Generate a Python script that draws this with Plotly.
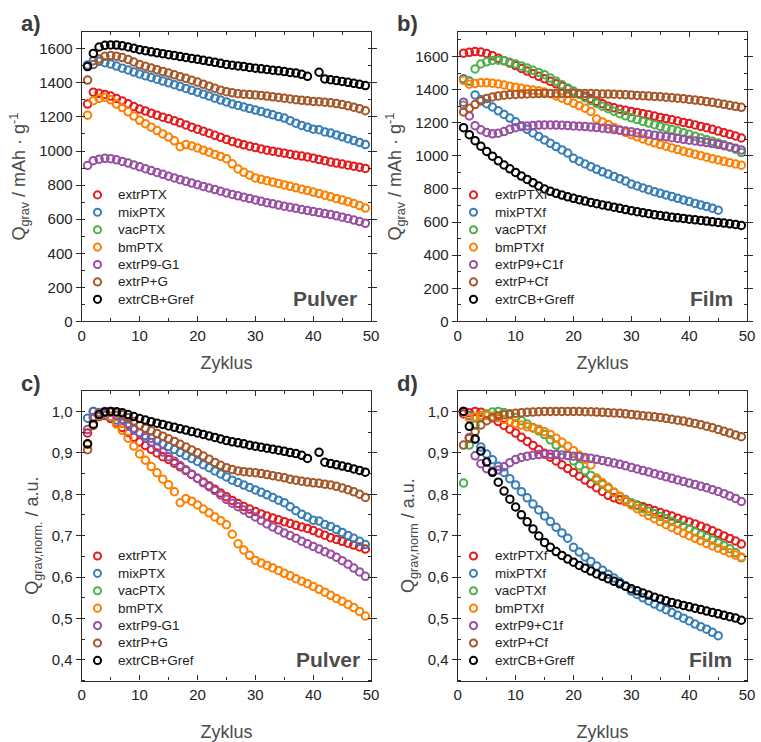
import plotly.graph_objects as go

# Cycle numbers
cycles = list(range(1, 50))

# Powder electrodes ("Pulver"): gravimetric capacity in mAh/g
extrPTX = [1275, 1345, 1338, 1332, 1322, 1308, 1293, 1277, 1261, 1246, 1234, 1222, 1210, 1198, 1189,
           1177, 1165, 1153, 1140, 1128, 1116, 1104, 1092, 1080, 1068, 1056, 1046, 1036, 1028, 1020,
           1012, 1005, 999, 993, 987, 981, 975, 970, 965, 958, 950, 943, 935, 929, 923, 917, 911, 905, 898]
mixPTX = [1505, 1530, 1526, 1518, 1510, 1498, 1486, 1475, 1463, 1452, 1441, 1431, 1421, 1410, 1400,
          1389, 1378, 1367, 1356, 1345, 1333, 1322, 1310, 1299, 1288, 1276, 1267, 1258, 1249, 1240,
          1231, 1222, 1212, 1202, 1193, 1178, 1163, 1150, 1140, 1128, 1125, 1112, 1105, 1094, 1083,
          1072, 1061, 1050, 1038]
vacPTX = []
bmPTX = [1210, 1295, 1308, 1315, 1300, 1275, 1255, 1230, 1205, 1180, 1160, 1140, 1120, 1100, 1082,
         1060, 1025, 1038, 1030, 1018, 1005, 993, 980, 968, 955, 925, 895, 875, 858, 842,
         834, 826, 818, 810, 801, 793, 784, 776, 768, 759, 750, 741, 731, 721, 712, 702, 692, 680, 665]
extrP9_G1 = [915, 943, 952, 957, 955, 948, 939, 929, 918, 907, 896, 885, 874, 863, 852,
             842, 832, 822, 812, 802, 792, 783, 774, 764, 754, 745, 737, 729, 721, 713,
             705, 697, 690, 683, 676, 670, 664, 657, 651, 645, 639, 633, 627, 620, 612, 604, 595, 586, 576]
extrP_G = [1416, 1507, 1540, 1555, 1560, 1556, 1548, 1537, 1522, 1507, 1497, 1487, 1477, 1467, 1457,
           1447, 1436, 1426, 1415, 1404, 1392, 1380, 1368, 1357, 1348, 1341, 1336, 1333, 1331, 1329,
           1326, 1322, 1318, 1314, 1310, 1305, 1301, 1297, 1294, 1291, 1289, 1286, 1283, 1278, 1272,
           1265, 1257, 1248, 1236]
extrCB_Gref = [1495, 1572, 1610, 1620, 1622, 1621, 1617, 1610, 1602, 1594, 1588, 1582, 1576, 1571, 1565,
               1560, 1554, 1549, 1543, 1538, 1532, 1526, 1520, 1514, 1508, 1503, 1499, 1495, 1490, 1486,
               1482, 1478, 1474, 1470, 1466, 1461, 1457, 1450, 1438, None, 1462, 1423, 1418, 1413, 1408,
               1403, 1397, 1391, 1384]

# Film electrodes ("Film"): gravimetric capacity in mAh/g
extrPTXf = [1620, 1625, 1630, 1627, 1618, 1605, 1590, 1575, 1560, 1545, 1528, 1512, 1496, 1480, 1465,
            1450, 1435, 1420, 1405, 1390, 1375, 1360, 1345, 1330, 1315, 1300, 1290, 1282, 1275, 1268,
            1262, 1255, 1248, 1240, 1232, 1225, 1218, 1210, 1202, 1195, 1187, 1178, 1170, 1160, 1150,
            1140, 1130, 1120, 1108]
mixPTXf = [1466, 1452, 1368, 1340, 1315, 1295, 1272, 1250, 1228, 1206, 1182, 1160, 1138, 1117, 1096,
           1076, 1056, 1036, 1017, 985, 968, 951, 935, 919, 904, 890, 876, 862, 848, 830,
           818, 806, 795, 784, 774, 764, 754, 744, 734, 724, 713, 704, 695, 684, 672]
vacPTXf = [1305, 1450, 1525, 1555, 1568, 1576, 1578, 1574, 1565, 1555, 1543, 1530, 1517, 1504, 1490,
           1470, 1450, 1430, 1410, 1390, 1371, 1352, 1334, 1317, 1300, 1285, 1270, 1255, 1242, 1230,
           1219, 1208, 1198, 1188, 1178, 1169, 1159, 1150, 1140, 1130, 1119, 1108, 1098, 1088, 1078,
           1067, 1055, 1040, 1020]
bmPTXf = [1456, 1433, 1437, 1442, 1442, 1439, 1434, 1428, 1421, 1414, 1408, 1402, 1397, 1393, 1385,
          1375, 1362, 1348, 1334, 1318, 1302, 1288, 1268, 1222, 1205, 1190, 1172, 1156, 1141, 1127,
          1114, 1102, 1090, 1079, 1068, 1058, 1048, 1038, 1028, 1019, 1010, 1001, 992, 983, 975,
          967, 959, 951, 944]
extrP9_C1f = [1324, 1241, 1182, 1157, 1141, 1133, 1137, 1147, 1160, 1170, 1177, 1181, 1184, 1186, 1187,
              1187, 1186, 1185, 1183, 1181, 1179, 1177, 1174, 1171, 1167, 1163, 1159, 1155, 1150, 1145,
              1140, 1135, 1130, 1125, 1120, 1115, 1110, 1105, 1100, 1095, 1090, 1085, 1080, 1074, 1068,
              1061, 1054, 1046, 1036]
extrP_Cf = [1265, 1287, 1310, 1332, 1346, 1356, 1362, 1366, 1369, 1371, 1373, 1374, 1375, 1376, 1377,
            1377, 1377, 1377, 1377, 1377, 1377, 1376, 1376, 1375, 1374, 1373, 1372, 1371, 1369, 1367,
            1365, 1363, 1361, 1359, 1357, 1354, 1351, 1348, 1345, 1341, 1337, 1333, 1328, 1323, 1317,
            1311, 1305, 1299, 1293]
extrCB_Greff = [1170, 1128, 1092, 1058, 1027, 998, 970, 945, 922, 900, 878, 858, 838, 818, 800,
                786, 774, 763, 753, 744, 735, 727, 719, 711, 704, 697, 690, 683, 676, 669,
                663, 657, 651, 645, 640, 635, 630, 626, 622, 618, 614, 610, 606, 602, 598,
                594, 590, 586, 580]

names_pulver = ["extrPTX", "mixPTX", "vacPTX", "bmPTX", "extrP9-G1", "extrP+G", "extrCB+Gref"]
names_film = ["extrPTXf", "mixPTXf", "vacPTXf", "bmPTXf", "extrP9+C1f", "extrP+Cf", "extrCB+Greff"]
series_pulver = [extrPTX, mixPTX, vacPTX, bmPTX, extrP9_G1, extrP_G, extrCB_Gref]
series_film = [extrPTXf, mixPTXf, vacPTXf, bmPTXf, extrP9_C1f, extrP_Cf, extrCB_Greff]
colors = ["#e41a1c", "#377eb8", "#4daf4a", "#ff7f00", "#984ea3", "#a65628", "#000000"]

FONT = "Liberation Sans, Arial"
W, H = 761, 742


def normalize(values):
    """Capacity relative to the maximum capacity of the series."""
    valid = [v for v in values if v is not None]
    if not valid:
        return []
    top = max(valid)
    return [None if v is None else v / top for v in values]


fig = go.Figure()

# (xaxis, yaxis, series, names, normalised?, legend marker x, legend text x) in pixels
panels = [
    ("x", "y", series_pulver, names_pulver, False, 95, 114, 197),
    ("x2", "y2", series_film, names_film, False, 477, 497, 197),
    ("x3", "y3", series_pulver, names_pulver, True, 95, 114, 562),
    ("x4", "y4", series_film, names_film, True, 477, 497, 562),
]

shapes = []
annos = []
ROW = 17.6
for xa, ya, series, names, norm, mx, tx, ty in panels:
    for i, (vals, name, col) in enumerate(zip(series, names, colors)):
        yv = normalize(vals) if norm else vals
        if yv:
            fig.add_trace(go.Scatter(
                x=cycles[:len(yv)], y=yv, name=name, mode="markers", xaxis=xa, yaxis=ya,
                showlegend=False,
                marker=dict(symbol="circle-open", size=7.5, color=col,
                            line=dict(width=2, color=col)),
            ))
        # legend entry: open circle + label
        cy = ty + ROW * i
        r = 3.6
        shapes.append(dict(type="circle", xref="paper", yref="paper",
                           x0=(mx - r) / W, x1=(mx + r) / W,
                           y0=1 - (cy + r) / H, y1=1 - (cy - r) / H,
                           line=dict(color=col, width=2), fillcolor="rgba(0,0,0,0)"))
        annos.append(dict(text=name, x=tx / W, y=1 - cy / H, xref="paper", yref="paper",
                          xanchor="left", yanchor="middle", showarrow=False,
                          font=dict(family=FONT, size=13.5, color="#222222")))

xl = [(79 / W, 373 / W), (461 / W, 755 / W)]
yd_top = (1 - 325 / H, 1 - 32 / H)
yd_bot = (1 - 688 / H, 1 - 395 / H)

axis_line = dict(showline=True, linecolor="#2a2a2a", linewidth=1.3, mirror="ticks",
                 showgrid=False, zeroline=False, ticklen=5, tickwidth=1.2, tickcolor="#2a2a2a",
                 tickfont=dict(family=FONT, size=15, color="#222222"))
title_font = dict(family=FONT, size=18, color="#4a4a4a")


def xaxis_cfg(domain, anchor, standoff):
    return dict(axis_line, domain=domain, anchor=anchor, range=[0, 50], dtick=10, tick0=0,
                ticks="inside", minor=dict(dtick=5, ticks="inside", ticklen=3, tickcolor="#2a2a2a"),
                title=dict(text="Zyklus", font=title_font, standoff=standoff))


def yaxis_cfg(domain, anchor, rng, dtick, mdtick, title, fmt):
    return dict(axis_line, domain=domain, anchor=anchor, range=rng, dtick=dtick, tick0=0,
                ticks="outside", tickformat=fmt,
                minor=dict(dtick=mdtick, tick0=0, ticks="inside", ticklen=3, tickcolor="#2a2a2a"),
                title=dict(text=title, font=title_font, standoff=8))


q_title = "Q<sub>grav</sub> / mAh · g<sup>-1</sup>"
fig.update_layout(
    xaxis=xaxis_cfg(xl[0], "y", 13),
    yaxis=yaxis_cfg(yd_top, "x", [0, 1700], 200, 100, q_title, "d"),
    xaxis2=xaxis_cfg(xl[1], "y2", 13),
    yaxis2=yaxis_cfg(yd_top, "x2", [0, 1750], 200, 100, q_title, "d"),
    xaxis3=xaxis_cfg(xl[0], "y3", 23),
    yaxis3=yaxis_cfg(yd_bot, "x3", [0.35, 1.05], 0.1, 0.05,
                     "Q<sub>grav,norm.</sub> / a.u.", ".1f"),
    xaxis4=xaxis_cfg(xl[1], "y4", 23),
    yaxis4=yaxis_cfg(yd_bot, "x4", [0.35, 1.05], 0.1, 0.05,
                     "Q<sub>grav,norm</sub> / a.u.", ".1f"),
    separators=",.",
)

for txt, px, py in [("a)", 27, 24), ("b)", 410, 24), ("c)", 27, 388), ("d)", 410, 388)]:
    annos.append(dict(text=txt, x=px / W, y=1 - py / H, xref="paper", yref="paper",
                      xanchor="center", yanchor="middle", showarrow=False,
                      font=dict(family=FONT, size=22, color="#3a3a3a", weight="bold")))
for txt, px, py in [("Pulver", 326, 302), ("Film", 719, 302), ("Pulver", 329, 667), ("Film", 718, 667)]:
    annos.append(dict(text=txt, x=px / W, y=1 - py / H, xref="paper", yref="paper",
                      xanchor="center", yanchor="middle", showarrow=False,
                      font=dict(family=FONT, size=21, color="#4d4d4d", weight="bold")))

fig.update_layout(
    annotations=annos,
    shapes=shapes,
    showlegend=False,
    width=W, height=H,
    margin=dict(l=0, r=0, t=0, b=0),
    paper_bgcolor="white", plot_bgcolor="white",
)

fig.write_html("out.html", config={"displayModeBar": False})
